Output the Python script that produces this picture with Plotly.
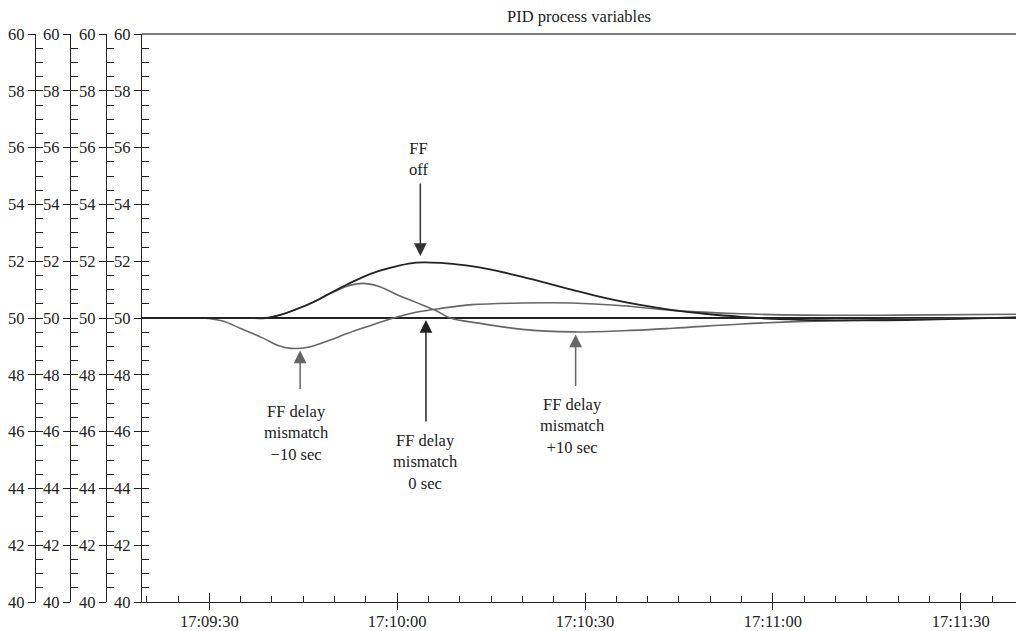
import numpy as np
import plotly.graph_objects as go

DAY = "2024-01-01 "

# Controlled variable, FF with matched delay (0 sec)
t_zero = ["17:09:19", "17:11:39"]
v_zero = [50.0, 50.0]

# Controlled variable with feedforward switched off
t_ff_off = ["17:09:19", "17:09:30", "17:09:36", "17:09:39", "17:09:41.5", "17:09:44.5",
            "17:09:47", "17:09:49.5", "17:09:52", "17:09:54.6", "17:09:57", "17:10:00",
            "17:10:03", "17:10:07", "17:10:11", "17:10:15", "17:10:19", "17:10:23",
            "17:10:28", "17:10:33.5", "17:10:39", "17:10:44", "17:10:49.5", "17:10:55",
            "17:11:01", "17:11:08", "17:11:18", "17:11:28", "17:11:39"]
v_ff_off = [50.0, 50.0, 50.0, 50.0, 50.12, 50.36,
            50.6, 50.9, 51.18, 51.45, 51.65, 51.83,
            51.95, 51.94, 51.85, 51.7, 51.5, 51.28,
            50.99, 50.69, 50.45, 50.28, 50.14, 50.04,
            49.96, 49.92, 49.92, 49.96, 50.02]

# FF delay mismatch -10 sec
t_m10 = ["17:09:19", "17:09:25", "17:09:29", "17:09:32", "17:09:35", "17:09:38.5",
         "17:09:41", "17:09:43", "17:09:46", "17:09:49", "17:09:52", "17:09:55",
         "17:09:59", "17:10:03", "17:10:07", "17:10:12", "17:10:20", "17:10:28",
         "17:10:36", "17:10:44", "17:10:55", "17:11:05", "17:11:20", "17:11:39"]
v_m10 = [50.0, 50.0, 50.0, 49.9, 49.63, 49.3,
         49.03, 48.93, 48.98, 49.2, 49.45, 49.68,
         49.97, 50.2, 50.34, 50.47, 50.53, 50.53,
         50.43, 50.27, 50.15, 50.1, 50.1, 50.13]

# FF delay mismatch +10 sec
t_p10 = ["17:09:19", "17:09:30", "17:09:36", "17:09:39", "17:09:41.5", "17:09:44.5",
         "17:09:47", "17:09:49.5", "17:09:52", "17:09:54.5", "17:09:57", "17:10:00",
         "17:10:03", "17:10:06", "17:10:08.5", "17:10:13", "17:10:20", "17:10:28",
         "17:10:36", "17:10:44", "17:10:55", "17:11:05", "17:11:20", "17:11:39"]
v_p10 = [50.0, 50.0, 50.0, 50.0, 50.12, 50.36,
         50.6, 50.88, 51.12, 51.22, 51.12, 50.82,
         50.55, 50.28, 50.0, 49.82, 49.6, 49.51,
         49.55, 49.64, 49.79, 49.88, 49.95, 50.02]

y_ticks = [40, 42, 44, 46, 48, 50, 52, 54, 56, 58, 60]
x_range = ["17:09:19.25", "17:11:38.83"]


def stamp(ts):
    return [DAY + t for t in ts]


W, H = 1016, 631
PLOT_L, PLOT_T, PLOT_B = 142, 34, 602
x_dom0 = PLOT_L / W
axis_pos = [35 / W, 70 / W, 106 / W]

INK = "#222222"
GREY = "#666666"
FONT = dict(family="Liberation Serif", size=16.5, color=INK)

fig = go.Figure()

fig.add_trace(go.Scatter(x=stamp(t_zero), y=v_zero, mode="lines",
                         line=dict(color=INK, width=1.8), name="0 sec"))
fig.add_trace(go.Scatter(x=stamp(t_m10), y=v_m10, mode="lines",
                         line=dict(color=GREY, width=1.6, shape="spline"), name="-10 sec"))
fig.add_trace(go.Scatter(x=stamp(t_p10), y=v_p10, mode="lines",
                         line=dict(color=GREY, width=1.6, shape="spline"), name="+10 sec"))
fig.add_trace(go.Scatter(x=stamp(t_ff_off), y=v_ff_off, mode="lines",
                         line=dict(color=INK, width=1.8, shape="spline"), name="FF off"))

# empty traces so every overlay axis gets drawn
extra_axes = [("x2", "y")] + [("x", f"y{k}") for k in range(2, 9)]
for xa, ya in extra_axes:
    fig.add_trace(go.Scatter(x=[None], y=[None], xaxis=xa, yaxis=ya, mode="lines",
                             showlegend=False, hoverinfo="skip"))

xr = stamp(x_range)
common_x = dict(type="date", range=xr, domain=[x_dom0, 1], showgrid=False, zeroline=False)

layout = dict(
    width=W, height=H, template="none",
    margin=dict(l=0, r=0, t=PLOT_T, b=H - PLOT_B, pad=0),
    paper_bgcolor="white", plot_bgcolor="white",
    showlegend=False, font=FONT,
    xaxis=dict(**common_x, anchor="y", tick0=DAY + "17:09:30", dtick=30000,
               tickformat="%H:%M:%S", ticks="outside", ticklen=7, tickwidth=1.2,
               tickcolor=INK, showline=True, linecolor=INK, linewidth=1.2,
               tickfont=FONT, ticklabelstandoff=-3, automargin=False),
    xaxis2=dict(**common_x, anchor="y", overlaying="x", tick0=DAY + "17:09:30",
                dtick=30000, ticks="inside", ticklen=9, tickwidth=1.2, tickcolor=INK,
                minor=dict(ticks="inside", dtick=5000, tick0=DAY + "17:09:20",
                           ticklen=6, tickwidth=1.2, tickcolor=INK),
                showticklabels=False, showline=False, automargin=False),
)

ycommon = dict(range=[40, 60], domain=[0, 1], showgrid=False, zeroline=False,
               automargin=False)
outer = dict(tickvals=y_ticks, ticks="outside", ticklen=7, tickwidth=1.2,
             tickcolor=INK, showline=True, linecolor=INK, linewidth=1.2,
             tickfont=FONT, side="left")
inner = dict(tickvals=list(np.arange(40.5, 59.9, 0.5)), ticks="inside", ticklen=6.5,
             tickwidth=1.2, tickcolor=INK, showticklabels=False, showline=False,
             side="left")

layout["yaxis"] = dict(**ycommon, **outer, anchor="x")
for i, p in enumerate(axis_pos):
    layout[f"yaxis{i + 2}"] = dict(**ycommon, **outer, anchor="free", position=p,
                                   overlaying="y")
layout["yaxis5"] = dict(**ycommon, **inner, anchor="x", overlaying="y")
for i, p in enumerate(axis_pos):
    layout[f"yaxis{i + 6}"] = dict(**ycommon, **inner, anchor="free", position=p,
                                   overlaying="y")

fig.update_layout(**layout)

# frame line along the top of the plot area
fig.add_shape(type="line", xref="paper", yref="paper", x0=x_dom0, x1=1, y0=1, y1=1,
              line=dict(color="#555555", width=1.5))

fig.add_annotation(text="PID process variables", xref="paper", yref="paper",
                   x=(PLOT_L + W) / 2 / W, y=1 + (PLOT_T - 17) / (PLOT_B - PLOT_T),
                   xanchor="center", yanchor="middle", showarrow=False, font=FONT)

# arrows pointing at the curves
arrows = [
    ("17:10:03.7", 52.18, -74, "#333333"),
    ("17:09:44.5", 48.86, 40, GREY),
    ("17:10:04.6", 49.93, 103, INK),
    ("17:10:28.5", 49.42, 53, GREY),
]
for tx, ty, ay, col in arrows:
    fig.add_annotation(x=DAY + tx, y=ty, xref="x", yref="y", text="",
                       showarrow=True, ax=0, ay=ay, axref="pixel", ayref="pixel",
                       arrowhead=2, arrowsize=1.7, arrowwidth=1.5, arrowcolor=col,
                       standoff=0, startstandoff=0)

labels = [
    ("FF<br>off", "17:10:03.4", 55.6),
    ("FF delay<br>mismatch<br>\u221210 sec", "17:09:43.85", 45.95),
    ("FF delay<br>mismatch<br>0 sec", "17:10:04.6", 44.94),
    ("FF delay<br>mismatch<br>+10 sec", "17:10:28.0", 46.18),
]
for txt, tx, ty in labels:
    fig.add_annotation(x=DAY + tx, y=ty, xref="x", yref="y", text=txt,
                       showarrow=False, xanchor="center", yanchor="middle", font=FONT)

fig.write_html("out.html")
